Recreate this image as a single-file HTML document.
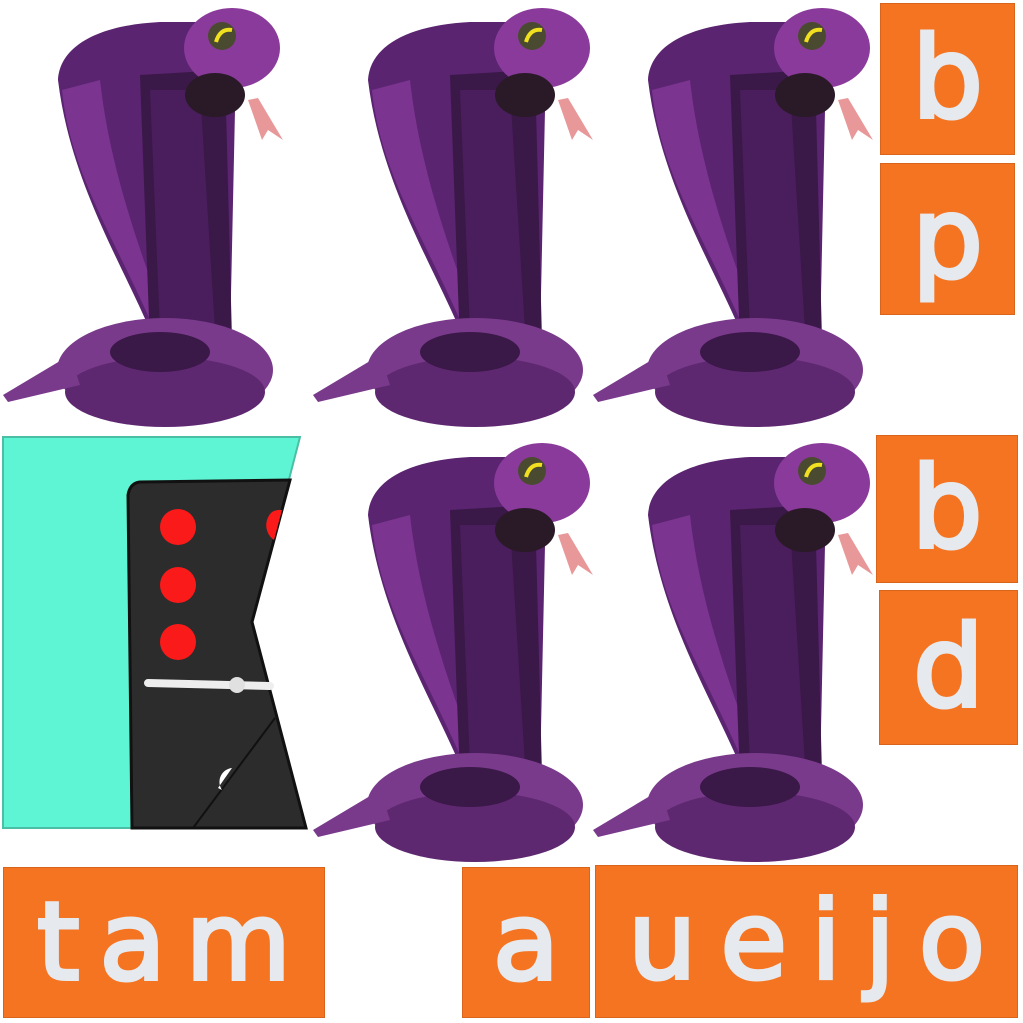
<!DOCTYPE html>
<html><head><meta charset="utf-8"><style>
html,body{margin:0;padding:0;background:#fff;}
body{width:1023px;height:1023px;overflow:hidden;position:relative;font-family:"DejaVu Sans","Liberation Sans",sans-serif;}
.tile{position:absolute;background:#F47421;color:#E6E9EE;font-weight:normal;-webkit-text-stroke:4px #E6E9EE;display:flex;align-items:center;justify-content:center;box-sizing:border-box;border:1px solid #d9651c;}
</style></head><body>
<svg width="1023" height="1023" style="position:absolute;left:0;top:0">
<defs>
<g id="cobra">
  <path d="M58,80 C60,45 100,25 160,22 L210,22 L235,110 L230,340 L150,330 C120,260 70,180 58,80 Z" fill="#5a2470"/>
  <path d="M62,90 C70,170 110,230 150,320 L165,320 C140,250 110,170 100,80 Z" fill="#7b3490"/>
  <path d="M140,75 L225,70 L232,340 L150,345 Z" fill="#3a1848"/>
  <path d="M150,90 L200,90 L215,330 L160,330 Z" fill="#4a1e5c"/>
  <ellipse cx="165" cy="370" rx="108" ry="52" fill="#7a3a8c"/>
  <ellipse cx="165" cy="392" rx="100" ry="35" fill="#5e2870"/>
  <ellipse cx="160" cy="352" rx="50" ry="20" fill="#3a1848"/>
  <path d="M70,355 L3,395 L8,402 L80,385 Z" fill="#7a3a8c"/>
  <ellipse cx="232" cy="48" rx="48" ry="40" fill="#8a3a9a"/>
  <ellipse cx="215" cy="95" rx="30" ry="22" fill="#2a1a28"/>
  <ellipse cx="222" cy="36" rx="14" ry="14" fill="#4a4a30"/>
  <path d="M216,42 Q220,28 232,30" stroke="#f0e020" stroke-width="4" fill="none"/>
  <path d="M248,100 L262,140 L268,130 L283,140 L258,98 Z" fill="#e89898"/>
</g>
</defs>
<use href="#cobra" x="0" y="0"/>
<use href="#cobra" x="310" y="0"/>
<use href="#cobra" x="590" y="0"/>
<use href="#cobra" x="310" y="435"/>
<use href="#cobra" x="590" y="435"/>
<g>
  <path d="M3,437 L300,437 L252,622 L306,828 L3,828 Z" fill="#5ef5d4"/>
  <path d="M3,437 L300,437 L252,622 L306,828 L3,828 Z" fill="none" stroke="#4bbfa5" stroke-width="2"/>
  <path d="M140,482 L290,480 L252,622 L306,828 L132,828 L128,495 Q130,483 140,482 Z" fill="#2c2c2c" stroke="#111" stroke-width="3"/>
  <circle cx="178" cy="527" r="18" fill="#fb1a1a"/>
  <circle cx="178" cy="585" r="18" fill="#fb1a1a"/>
  <circle cx="178" cy="642" r="18" fill="#fb1a1a"/>
  <path d="M272,512 A18,18 0 0 1 282,510 L274,540 A18,18 0 0 1 272,512 Z" fill="#fb1a1a"/>
  <path d="M148,683 L270,686" stroke="#eee" stroke-width="8" stroke-linecap="round"/>
  <circle cx="237" cy="685" r="8" fill="#e0e0e0"/>
  <path d="M193,828 L275,718" stroke="#111" stroke-width="2"/>
  <path d="M222,790 A14,14 0 0 1 232,768 L218,788 Z" fill="#fff"/>
</g>
</svg>
<div class="tile" style="left:880px;top:3px;width:135px;height:152px;font-size:112px">b</div>
<div class="tile" style="left:880px;top:163px;width:135px;height:152px;font-size:112px">p</div>
<div class="tile" style="left:876px;top:435px;width:142px;height:148px;font-size:112px">b</div>
<div class="tile" style="left:879px;top:590px;width:139px;height:155px;font-size:112px">d</div>
<div class="tile" style="left:3px;top:867px;width:322px;height:151px;font-size:108px;letter-spacing:20px;text-indent:20px">tam</div>
<div class="tile" style="left:462px;top:867px;width:128px;height:151px;font-size:108px">a</div>
<div class="tile" style="left:595px;top:865px;width:423px;height:153px;font-size:108px;letter-spacing:24px;text-indent:24px">ueijo</div>
</body></html>
